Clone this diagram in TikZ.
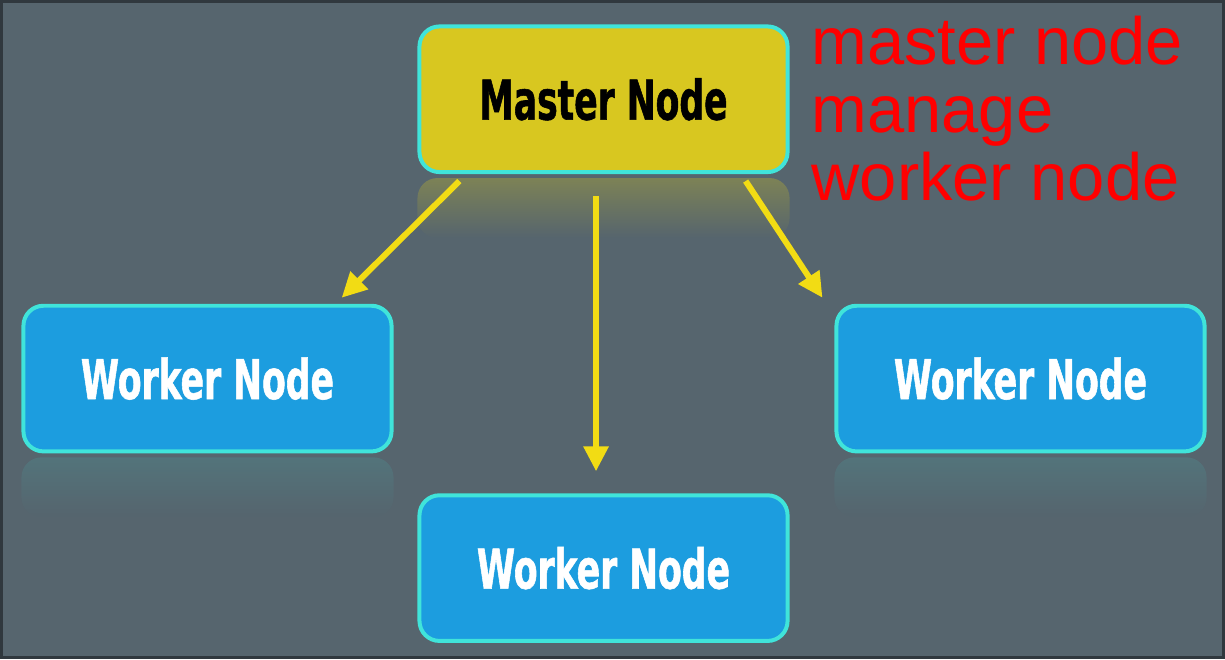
\documentclass[tikz,border=0pt]{standalone}
\usepackage{fontspec}
\setmainfont{Liberation Sans}
\newfontfamily\boxfont[FakeStretch=0.63,FakeBold=1]{DejaVu Sans}
\usetikzlibrary{positioning,calc,arrows.meta,fadings}

\definecolor{bgslate}{HTML}{56656E}
\definecolor{framedark}{HTML}{30383E}
\definecolor{masteryellow}{HTML}{D8C720}
\definecolor{workerblue}{HTML}{1C9DDF}
\definecolor{edgecyan}{HTML}{40E4DA}
\definecolor{arrowyellow}{HTML}{F2DC14}
\definecolor{notered}{HTML}{FF0000}

\tikzset{
    on grid,
    node distance=100pt,
    auto,
    box/.style = {
        draw=edgecyan,
        shape=rectangle,
        rounded corners=20pt,
        minimum height=146pt,
        minimum width=369pt,
        line width=4pt,
        font=\boxfont\bfseries\fontsize{55}{60}\selectfont
    },
    master/.style = {
        box,
        fill=masteryellow,
        text=black
    },
    worker/.style = {
        box,
        fill=workerblue,
        text=white
    },
    note/.style = {
        text=notered,
        align=left,
        inner sep=0pt,
        font=\fontsize{67}{68}\selectfont
    },
    shine/.style = {
        rounded corners=20pt,
        fill opacity=0.3,
        path fading=south
    },
    link/.style = {
        draw=arrowyellow,
        line width=6pt,
        ->
    },
    >={Triangle[length=25pt,width=24pt]},
}

\begin{document}
\begin{tikzpicture}[x=1pt, y=1pt]
    \fill[bgslate] (0,0) rectangle (1225,-658);
    \draw[framedark, line width=3pt] (0,0) rectangle (1225,-658);
    \useasboundingbox (0,0) rectangle (1225,-658);

    \node[master] (master) at (603.5,-98) {Master Node};
    \node[worker, below=470pt of master] (wmid) {Worker Node};
    \node[worker, below left=280pt and 397pt of master] (wleft) {Worker Node};
    \node[worker, below right=280pt and 418pt of master] (wright) {Worker Node};
    \node[note, anchor=base west] (note) at ($(master.north east)+(22,-176)$)
        {master node\\manage\\worker node};

    % reflections under the boxes
    \fill[shine, masteryellow] ($(master.south west)+(0,-4)$) rectangle ($(master.south east)+(0,-64)$);
    \fill[shine, edgecyan, fill opacity=0.12] ($(wleft.south west)+(0,-4)$) rectangle ($(wleft.south east)+(0,-64)$);
    \fill[shine, edgecyan, fill opacity=0.12] ($(wright.south west)+(0,-4)$) rectangle ($(wright.south east)+(0,-64)$);

    \path[link] ($(master.south west)+(42,-7)$) -- ($(wleft.north east)+(-52,6)$);
    \path[link] ($(master.south)+(-7.5,-22)$) -- ($(wmid.north)+(-7.5,22)$);
    \path[link] ($(master.south east)+(-44,-7)$) -- ($(wright.north west)+(-12,6)$);
\end{tikzpicture}
\end{document}
